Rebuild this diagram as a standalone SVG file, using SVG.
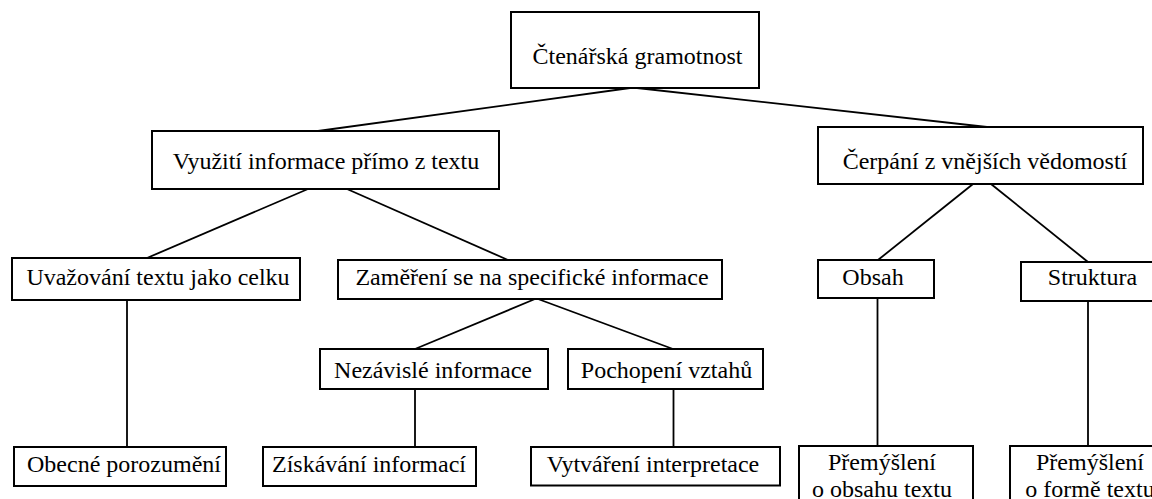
<svg xmlns="http://www.w3.org/2000/svg" width="1152" height="499" viewBox="0 0 1152 499">
<style>
.box{fill:#fff;stroke:#000;stroke-width:2}
.lbl{font-size:24px;fill:#000;text-anchor:middle}
.conn line{stroke:#000;stroke-width:1.8}
</style>
<rect width="1152" height="499" fill="#fff"/>
<g id="connectors" class="conn">
<line x1="630" y1="88" x2="318" y2="131"/>
<line x1="637" y1="88" x2="987" y2="127"/>
<line x1="308" y1="189" x2="147" y2="258"/>
<line x1="347" y1="189" x2="508" y2="260"/>
<line x1="973" y1="184" x2="878" y2="260"/>
<line x1="991" y1="184" x2="1088" y2="262"/>
<line x1="535" y1="299" x2="415" y2="349"/>
<line x1="538" y1="299" x2="673" y2="349"/>
<line x1="127" y1="300" x2="127" y2="447"/>
<line x1="415" y1="389" x2="415" y2="447"/>
<line x1="673.5" y1="389" x2="673.5" y2="447"/>
<line x1="877.5" y1="298" x2="877.5" y2="446"/>
<line x1="1088" y1="301" x2="1088" y2="446"/>
</g>
<g font-family="Liberation Serif, Times New Roman, Times, serif">
<g id="n-root"><rect class="box" x="511" y="12" width="248" height="76"/><text class="lbl" x="637.5" y="64">Čtenářská gramotnost</text></g>
<g id="n-vyuziti"><rect class="box" x="152" y="131" width="347" height="58"/><text class="lbl" x="326" y="169">Využití informace přímo z textu</text></g>
<g id="n-cerpani"><rect class="box" x="818" y="127" width="325" height="57"/><text class="lbl" x="985" y="169">Čerpání z vnějších vědomostí</text></g>
<g id="n-uvazovani"><rect class="box" x="12" y="258" width="288" height="42"/><text class="lbl" x="158" y="285">Uvažování textu jako celku</text></g>
<g id="n-zamereni"><rect class="box" x="338" y="260" width="384" height="39"/><text class="lbl" x="532" y="285">Zaměření se na specifické informace</text></g>
<g id="n-obsah"><rect class="box" x="818" y="260" width="116" height="38"/><text class="lbl" x="873" y="285">Obsah</text></g>
<g id="n-struktura"><rect class="box" x="1021" y="262" width="140" height="39"/><text class="lbl" x="1092.5" y="285">Struktura</text></g>
<g id="n-nezavisle"><rect class="box" x="320" y="349" width="228" height="40"/><text class="lbl" x="433" y="378">Nezávislé informace</text></g>
<g id="n-pochopeni"><rect class="box" x="568" y="349" width="195" height="40"/><text class="lbl" x="666.5" y="378">Pochopení vztahů</text></g>
<g id="n-obecne"><rect class="box" x="14" y="447" width="212" height="39"/><text class="lbl" x="124" y="472">Obecné porozumění</text></g>
<g id="n-ziskavani"><rect class="box" x="263" y="447" width="213" height="39"/><text class="lbl" x="369" y="472">Získávání informací</text></g>
<g id="n-vytvareni"><rect class="box" x="531" y="447" width="249" height="38.5"/><text class="lbl" x="653" y="472">Vytváření interpretace</text></g>
<g id="n-premysleni-obsah"><rect class="box" x="799" y="446" width="174" height="70"/><text class="lbl" x="882" y="470">Přemýšlení</text><text class="lbl" x="882" y="497">o obsahu textu</text></g>
<g id="n-premysleni-forma"><rect class="box" x="1010" y="446" width="160" height="70"/><text class="lbl" x="1090" y="470">Přemýšlení</text><text class="lbl" x="1090" y="497">o formě textu</text></g>
</g>
</svg>
